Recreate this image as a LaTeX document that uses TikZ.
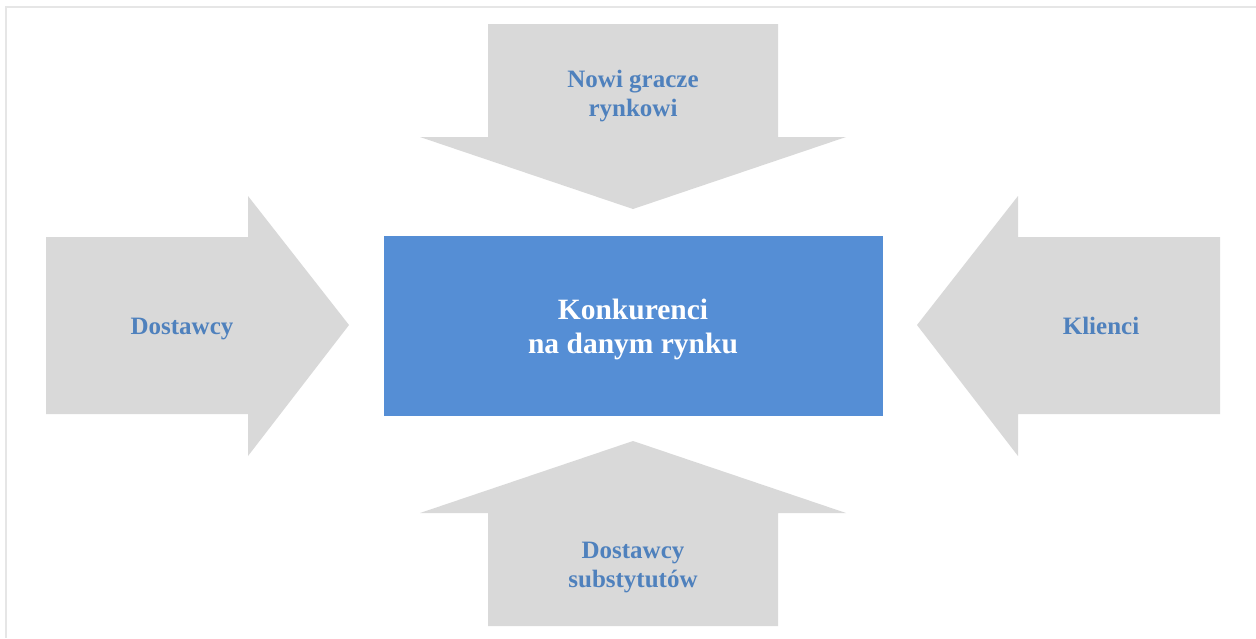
\documentclass[tikz,border=0pt]{standalone}
\usepackage{fontspec}
\setmainfont{Liberation Serif}
\definecolor{arrowgray}{HTML}{D9D9D9}
\definecolor{boxblue}{HTML}{558ED5}
\definecolor{labelblue}{HTML}{4F81BD}
\definecolor{framegray}{HTML}{E6E6E6}
\tikzset{
  arrowshape/.style={fill=arrowgray, draw=none},
  sidelabel/.style={text=labelblue, font=\bfseries\fontsize{25}{29}\selectfont, align=center},
  centerlabel/.style={text=white, font=\bfseries\fontsize{29.5}{33.5}\selectfont, align=center},
  centerbox/.style={fill=boxblue, draw=none, minimum width=499pt, minimum height=180pt, inner sep=0pt}
}
\begin{document}
\begin{tikzpicture}[x=1pt,y=-1pt]
\useasboundingbox (0,0) rectangle (1256,638);
\fill[white] (0,0) rectangle (1256,638);
% frame
\draw[framegray, line width=2pt] (6,638) -- (6,6.5) -- (1256,6.5);
% top arrow
\fill[arrowshape] (488,24) -- (778,24) -- (778,137) -- (846,137) -- (633,209) -- (420,137) -- (488,137) -- cycle;
% bottom arrow
\fill[arrowshape] (488,626) -- (778,626) -- (778,513) -- (846,513) -- (633,441) -- (420,513) -- (488,513) -- cycle;
% left arrow
\fill[arrowshape] (46,237) -- (248,237) -- (248,196) -- (349,325) -- (248,456) -- (248,414) -- (46,414) -- cycle;
% right arrow
\fill[arrowshape] (1220,237) -- (1018,237) -- (1018,196) -- (917,325) -- (1018,456) -- (1018,414) -- (1220,414) -- cycle;
% center box
\node[centerbox] (center) at (633.5,326) {};
\node[centerlabel] (centertext) at (633,329.5) {Konkurenci\\na danym rynku};
\node[sidelabel] (top) at (633,96.5) {Nowi gracze\\rynkowi};
\node[sidelabel] (bottom) at (633,567.5) {Dostawcy\\substytutów};
\node[sidelabel] (left) at (182,329) {Dostawcy};
\node[sidelabel] (right) at (1101,326) {Klienci};
\end{tikzpicture}
\end{document}
